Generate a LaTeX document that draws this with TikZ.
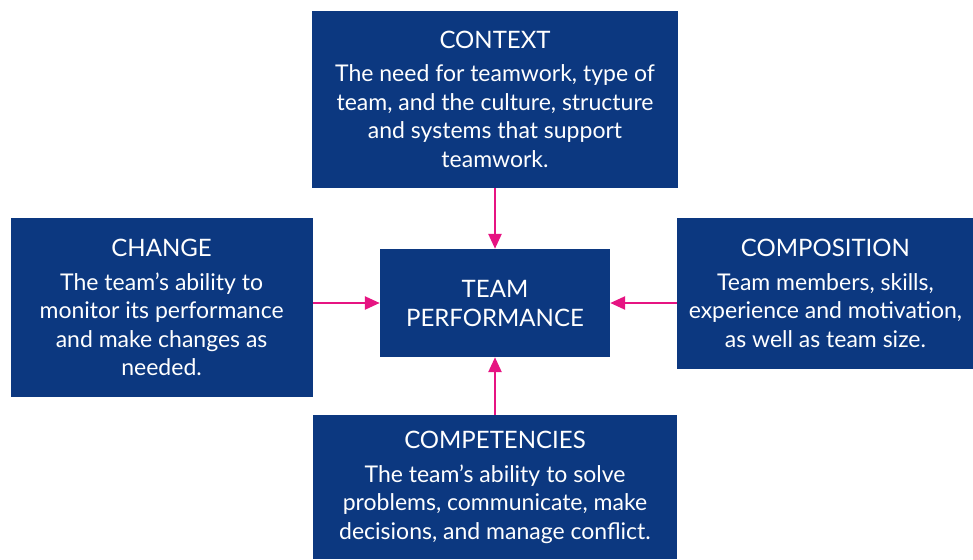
\documentclass[tikz,border=0pt]{standalone}
\usepackage{fontspec}
\setmainfont{Lato}
\usepackage{tikz}
\usetikzlibrary{arrows.meta,positioning}
\definecolor{boxblue}{RGB}{12,56,128}
\definecolor{linkpink}{RGB}{230,20,130}

\begin{document}
\begin{tikzpicture}[
    x=1pt, y=-1pt,
    block/.style={rectangle, fill=boxblue, text=white, align=center, inner sep=0pt, font=\fontsize{23}{28.5}\selectfont},
    arrow/.style={-{Triangle[length=15pt, width=13pt]}, line width=2.5pt, color=linkpink}
]
\useasboundingbox (0,0) rectangle (973,559);

% Central block
\node[block, minimum width=230pt, minimum height=108pt, font=\fontsize{24}{29}\selectfont] (perf) at (495,303) {TEAM\\PERFORMANCE};

% Factor blocks around the centre
\node[block, minimum width=366pt, minimum height=177pt, above=61pt of perf] (context) {{\fontsize{24}{28}\selectfont CONTEXT}\\[5pt]The need for teamwork, type of\\team, and the culture, structure\\and systems that support\\teamwork.};
\node[block, minimum width=302pt, minimum height=179pt, left=67pt of perf, yshift=-4.5pt] (change) {{\fontsize{24}{28}\selectfont CHANGE}\\[5pt]The team's ability to\\monitor its performance\\and make changes as\\needed.};
\node[block, minimum width=296pt, minimum height=151pt, right=67pt of perf, yshift=9.5pt] (composition) {{\fontsize{24}{28}\selectfont COMPOSITION}\\[5pt]Team members, skills,\\experience and motivation,\\as well as team size.};
\node[block, minimum width=364pt, minimum height=144pt, below=58pt of perf] (competencies) {{\fontsize{24}{28}\selectfont COMPETENCIES}\\[5pt]The team's ability to solve\\problems, communicate, make\\decisions, and manage conflict.};

% Arrows into team performance
\draw[arrow] (context) -- (perf);
\draw[arrow] (competencies) -- (perf);
\draw[arrow] (change.east |- perf.west) -- (perf.west);
\draw[arrow] (composition.west |- perf.east) -- (perf.east);

\end{tikzpicture}
\end{document}
